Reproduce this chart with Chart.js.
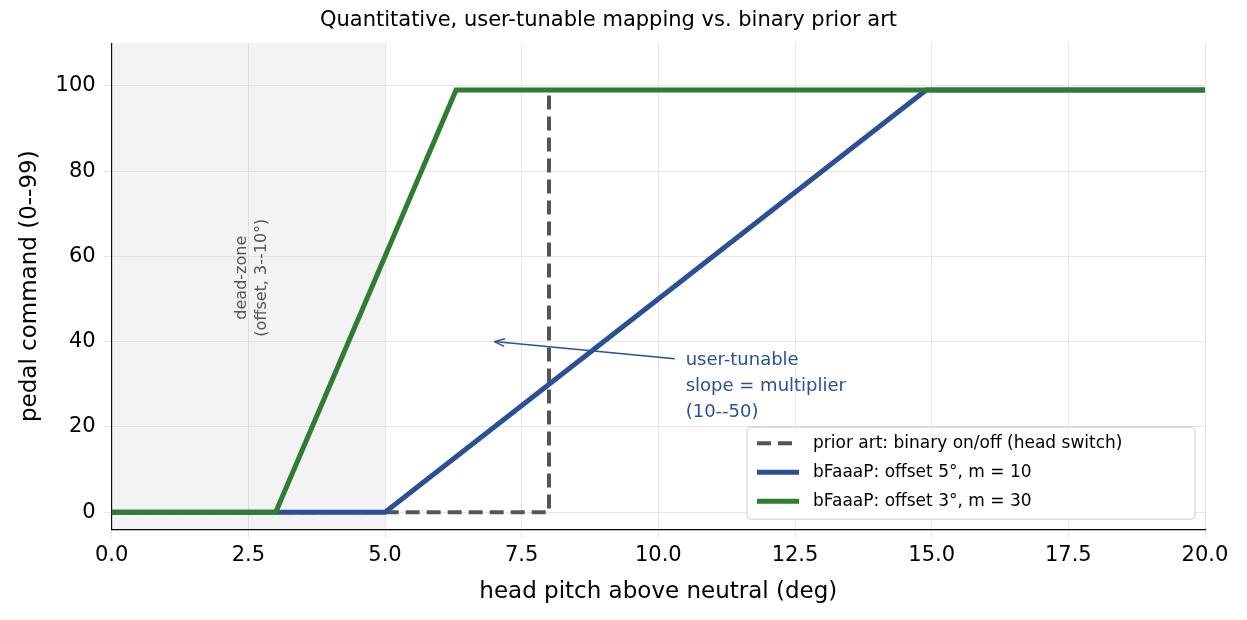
<!DOCTYPE html>
<html><head><meta charset="utf-8">
<script src="https://cdn.jsdelivr.net/npm/chart.js@4"></script>
<style>body{margin:0;background:#fff}#wrap{width:1247px;height:620px}</style>
</head><body><div id="wrap"><canvas id="c"></canvas></div>
<script>
const priorX = [0, 8, 8, 20];
const priorY = [0, 0, 99, 99];
const blueX = [0, 5, 14.9, 20];
const blueY = [0, 0, 99, 99];
const greenX = [0, 3, 6.3, 20];
const greenY = [0, 0, 99, 99];
const xTicks = [0, 2.5, 5, 7.5, 10, 12.5, 15, 17.5, 20];
const yTicks = [0, 20, 40, 60, 80, 100];
const legendLabels = ['prior art: binary on/off (head switch)', 'bFaaaP: offset 5°, m = 10', 'bFaaaP: offset 3°, m = 30'];

const pts = (xs, ys) => xs.map((x, i) => ({x: x, y: ys[i]}));

const extras = {
  id: 'extras',
  beforeDatasetsDraw(chart) {
    const {ctx, scales: {x}, chartArea: a} = chart;
    ctx.save();
    ctx.fillStyle = 'rgba(200,200,200,0.22)';
    ctx.fillRect(x.getPixelForValue(0), a.top, x.getPixelForValue(5) - x.getPixelForValue(0), a.bottom - a.top);
    ctx.restore();
  },
  afterDatasetsDraw(chart) {
    const {ctx, scales: {x, y}, chartArea: a} = chart;
    ctx.save();
    ctx.translate(x.getPixelForValue(2.6), y.getPixelForValue(55));
    ctx.rotate(-Math.PI / 2);
    ctx.fillStyle = '#555';
    ctx.font = '16px "DejaVu Sans"';
    ctx.textAlign = 'center';
    ctx.fillText('dead-zone', 0, -8);
    ctx.fillText('(offset, 3--10°)', 0, 12);
    ctx.restore();

    ctx.save();
    const x1 = x.getPixelForValue(10.3), y1 = y.getPixelForValue(36);
    const x0 = x.getPixelForValue(7), y0 = y.getPixelForValue(40);
    ctx.strokeStyle = '#2c4f96'; ctx.fillStyle = '#2c4f96'; ctx.lineWidth = 1.5;
    ctx.beginPath(); ctx.moveTo(x1, y1); ctx.lineTo(x0, y0); ctx.stroke();
    const ang = Math.atan2(y0 - y1, x0 - x1);
    ctx.beginPath();
    ctx.moveTo(x0, y0);
    ctx.lineTo(x0 - 11 * Math.cos(ang - 0.35), y0 - 11 * Math.sin(ang - 0.35));
    ctx.moveTo(x0, y0);
    ctx.lineTo(x0 - 11 * Math.cos(ang + 0.35), y0 - 11 * Math.sin(ang + 0.35));
    ctx.stroke();
    ctx.font = '18px "DejaVu Sans"';
    ctx.textAlign = 'left';
    const tx = x.getPixelForValue(10.5);
    ctx.fillText('user-tunable', tx, y1 + 6);
    ctx.fillText('slope = multiplier', tx, y1 + 32);
    ctx.fillText('(10--50)', tx, y1 + 58);
    ctx.restore();

    // legend box, bottom right
    ctx.save();
    const bw = 448, bh = 92, bx = a.right - bw - 10, by = a.bottom - bh - 10;
    ctx.fillStyle = 'rgba(255,255,255,0.9)';
    ctx.strokeStyle = '#ccc'; ctx.lineWidth = 1;
    ctx.beginPath(); ctx.roundRect(bx, by, bw, bh, 4); ctx.fill(); ctx.stroke();
    ctx.font = '17px "DejaVu Sans"';
    ctx.textBaseline = 'middle';
    chart.data.datasets.forEach((ds, i) => {
      const ly = by + 16 + i * 29;
      ctx.strokeStyle = ds.borderColor; ctx.lineWidth = ds.borderWidth;
      ctx.setLineDash(ds.borderDash || []);
      ctx.beginPath(); ctx.moveTo(bx + 10, ly); ctx.lineTo(bx + 52, ly); ctx.stroke();
      ctx.setLineDash([]);
      ctx.fillStyle = '#000';
      ctx.fillText(legendLabels[i], bx + 66, ly);
    });
    ctx.restore();
  }
};

new Chart(document.getElementById('c'), {
  type: 'line',
  data: {
    datasets: [
      {label: legendLabels[0], data: pts(priorX, priorY), borderColor: '#555555', borderWidth: 4, borderDash: [14, 7], pointRadius: 0, order: 3},
      {label: legendLabels[1], data: pts(blueX, blueY), borderColor: '#2c4f96', borderWidth: 5, pointRadius: 0, order: 2},
      {label: legendLabels[2], data: pts(greenX, greenY), borderColor: '#2e7d32', borderWidth: 5, pointRadius: 0, order: 1}
    ]
  },
  options: {
    responsive: true, maintainAspectRatio: false, animation: false,
    layout: {padding: {left: 12, right: 42, top: 0, bottom: 10}},
    plugins: {
      title: {display: true, text: 'Quantitative, user-tunable mapping vs. binary prior art', color: '#000', font: {family: 'DejaVu Sans', size: 21, weight: 'normal'}, padding: {top: 8, bottom: 10}},
      legend: {display: false},
      tooltip: {enabled: false}
    },
    scales: {
      x: {
        type: 'linear', min: 0, max: 20,
        afterBuildTicks: s => { s.ticks = xTicks.map(v => ({value: v})); },
        ticks: {color: '#000', font: {family: 'DejaVu Sans', size: 21}, callback: v => v.toFixed(1), padding: 6},
        grid: {color: '#e6e6e6'}, border: {color: '#000', width: 1.2},
        title: {display: true, text: 'head pitch above neutral (deg)', color: '#000', font: {family: 'DejaVu Sans', size: 23}}
      },
      y: {
        min: -4, max: 110,
        afterBuildTicks: s => { s.ticks = yTicks.map(v => ({value: v})); },
        ticks: {color: '#000', font: {family: 'DejaVu Sans', size: 21}, padding: 8},
        grid: {color: '#e6e6e6'}, border: {color: '#000', width: 1.2},
        title: {display: true, text: 'pedal command (0--99)', color: '#000', font: {family: 'DejaVu Sans', size: 23}}
      }
    }
  },
  plugins: [extras]
});
</script></body></html>
